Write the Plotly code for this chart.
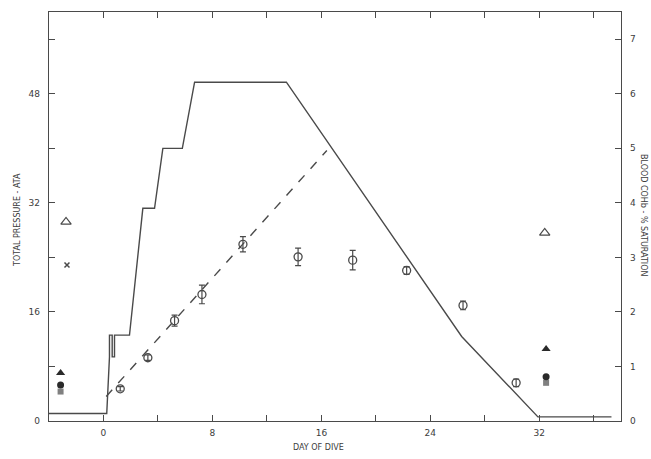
import plotly.graph_objects as go

# ---- data ----
pressure_days = [-4, 0.24, 0.44, 0.44, 0.64, 0.64, 0.81, 0.81, 1.91, 2.89, 3.75, 4.36, 5.79, 6.69, 13.43, 26.3, 31.9, 37.3]
pressure_ata = [1.1, 1.1, 9.4, 12.6, 12.6, 9.4, 9.4, 12.6, 12.6, 31.2, 31.2, 40.0, 40.0, 49.7, 49.7, 12.4, 0.6, 0.6]

trend_days = [0.2, 16.4]
trend_cohb = [0.45, 4.96]

cohb_days = [1.23, 3.26, 5.22, 7.23, 10.24, 14.29, 18.3, 22.26, 26.4, 30.3]
cohb_mean = [0.59, 1.16, 1.84, 2.32, 3.24, 3.01, 2.95, 2.76, 2.12, 0.70]
cohb_err = [0.04, 0.05, 0.10, 0.17, 0.14, 0.16, 0.18, 0.07, 0.08, 0.07]

open_tri_days = [-2.75, 32.4]
open_tri_vals = [3.65, 3.45]
cross_days = [-2.68]
cross_vals = [2.86]
fill_tri_days = [-3.15, 32.5]
fill_tri_vals = [0.88, 1.32]
fill_circ_days = [-3.15, 32.5]
fill_circ_vals = [0.66, 0.81]
square_days = [-3.15, 32.5]
square_vals = [0.54, 0.70]

x_ticks = [0, 8, 16, 24, 32]
x_minor = [4, 12, 20, 28, 36]
y_ticks = [0, 16, 32, 48]
y_minor = [8, 24, 40, 56]
y2_ticks = [0, 1, 2, 3, 4, 5, 6, 7]

INK = '#4a4a4a'
TXT = '#3c3c3c'
FONT = 'DejaVu Sans'

fig = go.Figure()
fig.add_trace(go.Scatter(x=pressure_days, y=pressure_ata, mode='lines',
                         line=dict(color=INK, width=1.4), yaxis='y'))
fig.add_trace(go.Scatter(x=trend_days, y=trend_cohb, mode='lines',
                         line=dict(color=INK, width=1.4, dash='dash'), yaxis='y2'))
fig.add_trace(go.Scatter(x=cohb_days, y=cohb_mean, mode='markers', yaxis='y2',
                         error_y=dict(type='data', array=cohb_err, color=INK, thickness=1.2, width=3),
                         marker=dict(symbol='circle-open', size=8, color=INK, line=dict(width=1.3))))
fig.add_trace(go.Scatter(x=square_days, y=square_vals, mode='markers', yaxis='y2',
                         marker=dict(symbol='square', size=6, color='#808080')))
fig.add_trace(go.Scatter(x=fill_circ_days, y=fill_circ_vals, mode='markers', yaxis='y2',
                         marker=dict(symbol='circle', size=7, color='#2a2a2a')))
fig.add_trace(go.Scatter(x=fill_tri_days, y=fill_tri_vals, mode='markers', yaxis='y2',
                         marker=dict(symbol='triangle-up', size=8, color='#2a2a2a')))
fig.add_trace(go.Scatter(x=open_tri_days, y=open_tri_vals, mode='markers', yaxis='y2',
                         marker=dict(symbol='triangle-up-open', size=9, color=INK, line=dict(width=1.2))))
fig.add_trace(go.Scatter(x=cross_days, y=cross_vals, mode='markers', yaxis='y2',
                         marker=dict(symbol='x-thin-open', size=5, color=INK, line=dict(width=1.5))))

axis_common = dict(showgrid=False, zeroline=False, showline=True, linecolor=INK, linewidth=1.3,
                   ticks='inside', ticklen=6, tickcolor=INK, tickwidth=1.2,
                   tickfont=dict(family=FONT, size=9, color=TXT))

# body margin removed by post_script, so figure pixels == screenshot pixels
W, H = 651, 459
L, R, T, B = 49, 30, 12, 38
PW, PH = W - L - R, H - T - B


def paper_xy(sx, sy):
    return (sx - L) / PW, (H - B - sy) / PH


ann_specs = [
    ('DAY OF DIVE', 318, 447, 0),
    ('TOTAL PRESSURE - ATA', 17, 220, -90),
    ('BLOOD COHb - % SATURATION', 644, 215, 90),
]
annotations = []
for text, sx, sy, ang in ann_specs:
    px, py = paper_xy(sx, sy)
    annotations.append(dict(text=text, x=px, y=py, xref='paper', yref='paper', showarrow=False,
                            xanchor='center', yanchor='middle', textangle=ang,
                            font=dict(family=FONT, size=8, color=TXT)))

fig.update_layout(
    width=W, height=H,
    margin=dict(l=L, r=R, t=T, b=B),
    paper_bgcolor='white', plot_bgcolor='white',
    showlegend=False,
    hovermode=False,
    xaxis=dict(range=[-4, 38], tickvals=x_ticks, mirror='ticks', ticklabelstandoff=3,
               minor=dict(tickvals=x_minor, ticks='inside', ticklen=6, tickcolor=INK, tickwidth=1.2),
               **axis_common),
    yaxis=dict(range=[0, 60], tickvals=y_ticks, mirror=True, ticklabelstandoff=6,
               minor=dict(tickvals=y_minor, ticks='inside', ticklen=6, tickcolor=INK, tickwidth=1.2),
               **axis_common),
    yaxis2=dict(range=[0, 7.5], tickvals=y2_ticks, overlaying='y', side='right', ticklabelstandoff=6,
                **axis_common),
    annotations=annotations,
)

fig.write_html('out.html',
               config={'displayModeBar': False},
               post_script="document.body.style.margin='0';document.body.style.overflow='hidden';")
